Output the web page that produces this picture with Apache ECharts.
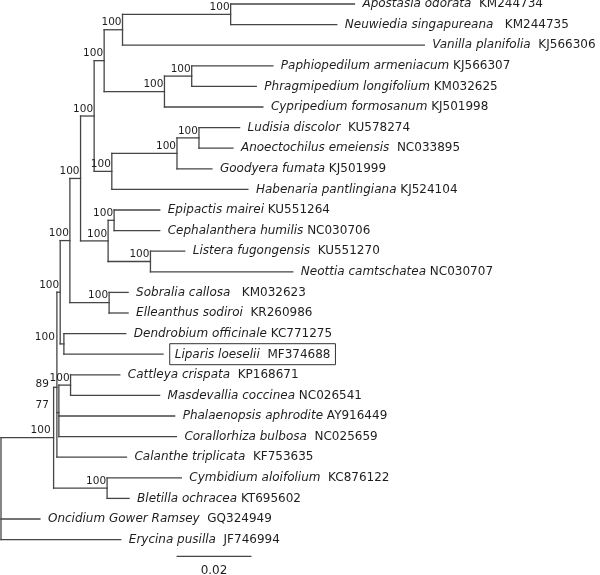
<!DOCTYPE html>
<html><head><meta charset="utf-8">
<script src="https://cdn.jsdelivr.net/npm/echarts@6/dist/echarts.min.js"></script>
<style>html,body{margin:0;padding:0;background:#fff}#c{width:600px;height:575px}</style>
</head><body><div id="c"></div>
<script>
// ---- data ----
const leafNames = ["Apostasia odorata","Neuwiedia singapureana","Vanilla planifolia","Paphiopedilum armeniacum","Phragmipedium longifolium","Cypripedium formosanum","Ludisia discolor","Anoectochilus emeiensis","Goodyera fumata","Habenaria pantlingiana","Epipactis mairei","Cephalanthera humilis","Listera fugongensis","Neottia camtschatea","Sobralia callosa","Elleanthus sodiroi","Dendrobium officinale","Liparis loeselii","Cattleya crispata","Masdevallia coccinea","Phalaenopsis aphrodite","Corallorhiza bulbosa","Calanthe triplicata","Cymbidium aloifolium","Bletilla ochracea","Oncidium Gower Ramsey","Erycina pusilla"];
const leafAccessions = ["KM244734","KM244735","KJ566306","KJ566307","KM032625","KJ501998","KU578274","NC033895","KJ501999","KJ524104","KU551264","NC030706","KU551270","NC030707","KM032623","KR260986","KC771275","MF374688","KP168671","NC026541","AY916449","NC025659","KF753635","KC876122","KT695602","GQ324949","JF746994"];
const labelGapSpaces = [2,3,2,1,1,1,2,2,1,1,1,1,2,1,3,2,1,2,2,1,1,2,2,2,1,2,2];
const highlightedLeaf = "Liparis loeselii";
// [node id, parent id, branch length, bootstrap support]
const treeNodes = [
 ["root", null, 0, null],
 ["A", "root", 0.01405, 100],
 ["N89", "A", 0.00088, 89],
 ["N17", "N89", 0.00088, 100],
 ["N15", "N17", 0.00259, 100],
 ["N13", "N15", 0.00285, 100],
 ["N9", "N13", 0.00363, 100],
 ["N5", "N9", 0.00267, 100],
 ["N2", "N5", 0.00491, 100],
 ["N1", "N2", 0.02888, 100],
 ["Apostasia odorata", "N1", 0.03307, null],
 ["Neuwiedia singapureana", "N1", 0.02835, null],
 ["Vanilla planifolia", "N2", 0.08061, null],
 ["N4", "N5", 0.01611, 100],
 ["N3", "N4", 0.00728, 100],
 ["Paphiopedilum armeniacum", "N3", 0.02168, null],
 ["Phragmipedium longifolium", "N3", 0.01725, null],
 ["Cypripedium formosanum", "N4", 0.02629, null],
 ["N8", "N9", 0.00472, 100],
 ["N7", "N8", 0.01741, 100],
 ["N6", "N7", 0.00587, 100],
 ["Ludisia discolor", "N6", 0.01085, null],
 ["Anoectochilus emeiensis", "N6", 0.00907, null],
 ["Goodyera fumata", "N7", 0.00933, null],
 ["Habenaria pantlingiana", "N8", 0.03635, null],
 ["N12", "N13", 0.00736, 100],
 ["N10", "N12", 0.0016, 100],
 ["Epipactis mairei", "N10", 0.01219, null],
 ["Cephalanthera humilis", "N10", 0.01219, null],
 ["N11", "N12", 0.01131, 100],
 ["Listera fugongensis", "N11", 0.00915, null],
 ["Neottia camtschatea", "N11", 0.03803, null],
 ["N14", "N15", 0.01048, 100],
 ["Sobralia callosa", "N14", 0.00507, null],
 ["Elleanthus sodiroi", "N14", 0.00507, null],
 ["N16", "N17", 0.00099, 100],
 ["Dendrobium officinale", "N16", 0.01653, null],
 ["Liparis loeselii", "N16", 0.02648, null],
 ["N20", "N89", 0.00053, 77],
 ["N19", "N20", 0.00312, 100],
 ["Cattleya crispata", "N19", 0.01315, null],
 ["Masdevallia coccinea", "N19", 0.02379, null],
 ["Phalaenopsis aphrodite", "N20", 0.03093, null],
 ["Corallorhiza bulbosa", "N20", 0.03139, null],
 ["Calanthe triplicata", "N89", 0.01859, null],
 ["C", "A", 0.01429, 100],
 ["Cymbidium aloifolium", "C", 0.01984, null],
 ["Bletilla ochracea", "C", 0.00587, null],
 ["Oncidium Gower Ramsey", "root", 0.0104, null],
 ["Erycina pusilla", "root", 0.032, null]
];
const scaleBarLength = 0.02;
const scaleBarLabel = "0.02";

// ---- style ----
const FONT = "'DejaVu Sans', 'Liberation Sans', sans-serif";
const LINE = {stroke: '#454545', lineWidth: 1.3, lineCap: 'square'};
const TEXT_COLOR = '#1e1e1e';
const supportNudge = {N16: [-8, 0], N20: [-9, 0], N89: [-7, 4], A: [-2, 0]};
const scaleBarPos = {x: 0.0469, row: 26.81, labelRow: 27.5};

// ---- layout ----
const nodeInfo = {};
treeNodes.forEach(([id, p, bl, s]) => {
  nodeInfo[id] = {id, parent: p, bl, support: s, children: []};
  if (p) nodeInfo[p].children.push(id);
});
function depthOf(id) { const n = nodeInfo[id]; return n.parent ? depthOf(n.parent) + n.bl : 0; }
function rowOf(id) {
  const n = nodeInfo[id];
  if (!n.children.length) return leafNames.indexOf(id);
  return n.children.map(rowOf).reduce((a, b) => a + b, 0) / n.children.length;
}
const treeData = treeNodes.map(([id], k) => [depthOf(id), rowOf(id), k]);

function renderNode(params, api) {
  const k = api.value(2);
  const id = treeNodes[k][0];
  const n = nodeInfo[id];
  const d = api.value(0), r = api.value(1);
  const pt = api.coord([d, r]);
  const els = [];
  if (n.parent) {
    const pp = api.coord([depthOf(n.parent), r]);
    els.push({type: 'line', shape: {x1: pp[0], y1: pt[1], x2: pt[0], y2: pt[1]}, style: LINE});
  }
  if (n.children.length) {
    const rows = n.children.map(rowOf);
    const a = api.coord([d, Math.min(...rows)]), b = api.coord([d, Math.max(...rows)]);
    els.push({type: 'line', shape: {x1: pt[0], y1: a[1], x2: pt[0], y2: b[1]}, style: LINE});
    if (n.support != null && n.parent) {
      const nd = supportNudge[id] || [0, 0];
      els.push({type: 'text', style: {
        x: pt[0] - 1 + nd[0], y: pt[1] - 1.5 + nd[1], text: String(n.support),
        align: 'right', verticalAlign: 'bottom', fill: TEXT_COLOR,
        font: '10.5px ' + FONT}});
    }
  } else {
    const i = leafNames.indexOf(id);
    const txt = '{i|' + leafNames[i] + '}{n|' + ' '.repeat(labelGapSpaces[i]) + leafAccessions[i] + '}';
    const boxed = id === highlightedLeaf;
    const style = {
      x: pt[0] + (boxed ? 6.7 : 8), y: pt[1], text: txt,
      align: 'left', verticalAlign: 'middle', fill: TEXT_COLOR, font: '12px ' + FONT,
      rich: {
        i: {fontStyle: 'italic', fontSize: 12, fontFamily: FONT, fill: TEXT_COLOR, fontWeight: 'normal'},
        n: {fontStyle: 'normal', fontSize: 12, fontFamily: FONT, fill: TEXT_COLOR}
      }
    };
    if (boxed) { style.borderColor = '#333'; style.borderWidth = 1; style.padding = [5, 5, 4, 5]; }
    els.push({type: 'text', style});
  }
  return {type: 'group', children: els};
}

function renderScale(params, api) {
  const a = api.coord([scaleBarPos.x, scaleBarPos.row]);
  const b = api.coord([scaleBarPos.x + scaleBarLength, scaleBarPos.row]);
  const c = api.coord([scaleBarPos.x + scaleBarLength / 2, scaleBarPos.labelRow]);
  return {type: 'group', children: [
    {type: 'line', shape: {x1: a[0], y1: a[1], x2: b[0], y2: b[1]}, style: {stroke: '#454545', lineWidth: 1.3}},
    {type: 'text', style: {x: c[0], y: c[1], text: scaleBarLabel, align: 'center', verticalAlign: 'middle', fill: TEXT_COLOR, font: '12px ' + FONT}}
  ]};
}

const chart = echarts.init(document.getElementById('c'));
chart.setOption({
  animation: false,
  backgroundColor: '#fff',
  grid: {left: 1, top: 4, width: 600, height: 535.6},
  xAxis: {type: 'value', min: 0, max: 0.16, show: false},
  yAxis: {type: 'value', min: 0, max: 26, inverse: true, show: false},
  series: [
    {type: 'custom', renderItem: renderNode, data: treeData, encode: {x: 0, y: 1}, clip: false, silent: true},
    {type: 'custom', renderItem: renderScale, data: [[0, 0]], encode: {x: 0, y: 1}, clip: false, silent: true}
  ]
});
</script></body></html>
